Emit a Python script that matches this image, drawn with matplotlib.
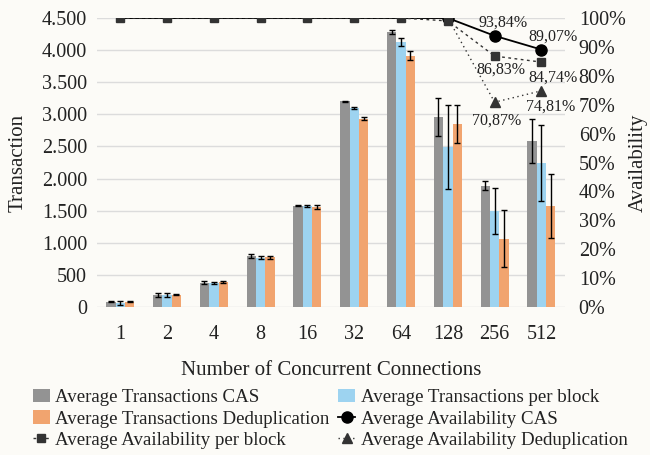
import matplotlib
matplotlib.use("Agg")
import matplotlib.pyplot as plt
import numpy as np
from matplotlib.ticker import FuncFormatter

plt.rcParams['font.family'] = ['Liberation Serif', 'DejaVu Serif']

connections = ["1", "2", "4", "8", "16", "32", "64", "128", "256", "512"]

trans_cas = [83, 192, 380, 790, 1580, 3200, 4280, 2960, 1890, 2590]
trans_block = [62, 190, 370, 765, 1572, 3100, 4130, 2490, 1495, 2245]
trans_dedup = [85, 190, 385, 775, 1557, 2930, 3910, 2850, 1060, 1570]

err_cas = [10, 30, 25, 30, 12, 15, 30, 290, 70, 340]
err_block = [25, 30, 12, 25, 20, 20, 60, 650, 365, 590]
err_dedup = [8, 10, 12, 25, 25, 25, 70, 290, 445, 500]

avail_cas = [100, 100, 100, 100, 100, 100, 100, 100, 93.84, 89.07]
avail_block = [100, 100, 100, 100, 100, 100, 100, 99, 86.83, 84.74]
avail_dedup = [100, 100, 100, 100, 100, 100, 100, 100, 70.87, 74.81]

bg = '#fcfbf7'
txt = '#222222'
fig = plt.figure(figsize=(6.5, 4.55), dpi=100, facecolor=bg)
ax = fig.add_axes([0.149, 0.3253, 0.72, 0.6351])
ax.set_facecolor(bg)

x = np.arange(len(connections))
w = 0.2
ekw = dict(ecolor='black', elinewidth=1, capsize=2.5, capthick=1)
b1 = ax.bar(x - w, trans_cas, w, yerr=err_cas, color='#939393', error_kw=ekw,
            label='Average Transactions CAS', zorder=2)
b2 = ax.bar(x, trans_block, w, yerr=err_block, color='#9dd3f0', error_kw=ekw,
            label='Average Transactions per block', zorder=2)
b3 = ax.bar(x + w, trans_dedup, w, yerr=err_dedup, color='#f1a46f', error_kw=ekw,
            label='Average Transactions Deduplication', zorder=2)

ax.set_ylim(0, 4500)
ax.set_xlim(-0.5, len(connections) - 0.5)
ax.set_yticks(np.arange(0, 4501, 500))
ax.yaxis.set_major_formatter(FuncFormatter(lambda v, p: f"{int(v):,}".replace(",", ".")))
ax.set_xticks(x)
ax.set_xticklabels(connections)
ax.grid(axis='y', color='#dcdcdc', lw=1, zorder=0)
for s in ax.spines.values():
    s.set_visible(False)
ax.tick_params(axis='y', length=0, labelsize=14.5, colors=txt, pad=7)
ax.tick_params(axis='x', length=0, labelsize=14.5, colors=txt, pad=13)
ax.set_ylabel('Transaction', fontsize=15, color=txt, labelpad=10)
ax.set_xlabel('Number of Concurrent Connections', fontsize=15, color=txt, labelpad=12)

ax2 = ax.twinx()
ax2.set_ylim(0, 100)
ax2.set_yticks(np.arange(0, 101, 10))
ax2.yaxis.set_major_formatter(FuncFormatter(lambda v, p: f"{int(v)}%"))
for s in ax2.spines.values():
    s.set_visible(False)
ax2.tick_params(length=0, labelsize=14.5, colors=txt, pad=10)
ax2.set_ylabel('Availability', fontsize=15, color=txt, labelpad=2)

l_dedup, = ax2.plot(x, avail_dedup, color='#333333', lw=1, ls=(0, (1, 2.5)), marker='^',
                    ms=7, markevery=[8, 9], label='Average Availability Deduplication')
l_cas, = ax2.plot(x, avail_cas, color='black', lw=1.3, marker='o', ms=8,
                  markevery=[7, 8, 9], label='Average Availability CAS')
l_block, = ax2.plot(x, avail_block, color='#333333', lw=1, ls=(0, (2, 2.5)), marker='s',
                    ms=5.5, label='Average Availability per block')


def pct(v):
    return f"{v:.2f}%".replace(".", ",")


offsets = {
    'cas': [(6, 9.5), (8, 9.5)],
    'block': [(4.5, -10), (8, -11)],
    'dedup': [(1.5, -13), (6.5, -11.5)],
}
for k, i in enumerate([8, 9]):
    for key, vals in [('cas', avail_cas), ('block', avail_block), ('dedup', avail_dedup)]:
        ax2.annotate(pct(vals[i]), (x[i], vals[i]), xytext=offsets[key][k],
                     textcoords='offset points', ha='center', va='center',
                     fontsize=11.5, color=txt)

handles = [b1, b3, l_block, b2, l_cas, l_dedup]
fig.legend(handles, [h.get_label() for h in handles], loc='upper left',
           bbox_to_anchor=(0.05, 0.145), ncol=2, frameon=False, fontsize=13.6,
           handlelength=0.9, handletextpad=0.3, columnspacing=0.45, labelspacing=0.22,
           borderaxespad=0, borderpad=0, labelcolor=txt)

fig.savefig('out.png', dpi=100, facecolor=bg)
